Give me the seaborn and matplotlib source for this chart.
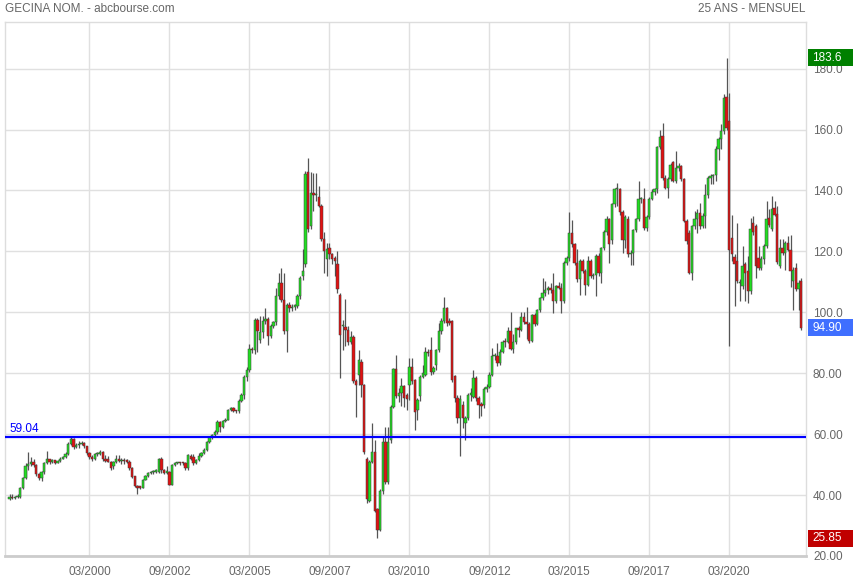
import numpy as np
import pandas as pd
import matplotlib
matplotlib.use("Agg")
import matplotlib.pyplot as plt
import matplotlib.transforms as mtransforms
from matplotlib.patches import Rectangle
import seaborn as sns

# monthly candles, first one = 09/1997
first_month = "1997-09"

opens = [
    38.6, 39.4, 39.0, 39.3, 39.4, 42.2, 45.6, 49.4, 50.2, 50.8, 49.8, 46.9, 45.5, 47.5, 50.5,
    51.7, 50.8, 51.4, 50.6, 51.2, 52.0, 52.5, 53.5, 56.9, 58.5, 55.8, 56.5, 56.7, 57.1, 56.0,
    53.8, 52.6, 51.8, 53.4, 53.6, 54.2, 52.0, 51.7, 51.0, 49.4, 51.0, 51.8, 51.2, 51.3, 51.1,
    51.0, 48.8, 46.1, 42.9, 42.9, 42.4, 45.1, 46.3, 47.2, 47.5, 47.7, 47.7, 52.0, 48.3, 47.4,
    47.7, 43.4, 49.9, 50.4, 50.6, 50.6, 50.6, 48.8, 52.8, 52.6, 50.4, 51.5, 52.8, 53.7, 54.7,
    57.4, 59.0, 59.6, 60.8, 64.1, 62.2, 64.4, 64.8, 67.9, 68.5, 67.7, 67.5, 71.0, 72.9, 78.9,
    81.1, 87.9, 87.5, 97.6, 91.0, 93.4, 97.0, 97.9, 92.1, 95.4, 96.7, 105.3, 109.7, 104.2, 93.7,
    102.5, 101.5, 101.9, 102.0, 105.3, 111.9, 115.7, 146.2, 128.4, 139.3, 138.5, 137.7, 135.0, 124.2, 117.6,
    121.2, 119.0, 117.9, 116.0, 105.8, 95.4, 95.2, 94.3, 90.4, 91.9, 77.3, 79.5, 83.8, 76.2, 52.0,
    38.2, 50.9, 54.2, 35.5, 28.6, 41.5, 57.5, 44.3, 58.0, 69.0, 81.3, 72.5, 73.4, 75.8, 72.9,
    76.2, 82.2, 77.8, 68.0, 72.6, 78.9, 79.5, 87.1, 87.6, 80.5, 82.7, 87.6, 93.7, 97.3, 101.3,
    97.3, 97.0, 79.1, 71.8, 65.2, 69.6, 63.6, 65.2, 72.9, 72.3, 78.4, 71.8, 69.9, 69.6, 74.8,
    75.6, 79.5, 85.5, 85.8, 83.3, 87.1, 90.4, 90.2, 93.9, 88.0, 90.2, 94.7, 94.2, 98.6, 96.9,
    96.1, 90.6, 99.1, 96.3, 100.8, 104.7, 106.3, 107.4, 108.0, 107.2, 103.6, 108.5, 108.0, 103.8, 116.3,
    117.7, 126.1, 122.4, 116.3, 110.8, 116.9, 113.6, 109.1, 116.9, 111.9, 112.4, 118.6, 113.0, 121.1, 126.3,
    130.7, 123.8, 135.4, 140.4, 140.6, 132.9, 123.6, 130.5, 119.2, 119.6, 127.1, 130.7, 137.1, 137.3, 127.7,
    131.3, 137.3, 139.5, 140.4, 154.2, 157.8, 144.2, 140.9, 143.7, 149.2, 143.1, 147.5, 148.0, 143.7, 129.9,
    126.0, 112.8, 128.2, 130.5, 132.7, 128.3, 131.6, 138.5, 144.2, 144.7, 145.0, 153.7, 156.8, 159.5, 170.8,
    162.8, 124.4, 118.2, 116.8, 109.6, 108.5, 115.7, 113.5, 106.9, 129.4, 128.3, 117.9, 114.6, 117.5,
    121.7, 131.0, 127.2, 134.3, 132.4, 115.1, 121.2, 119.5, 122.8, 120.6, 110.2, 114.6, 107.5, 110.4,
]
highs = [
    40.5, 40.5, 39.8, 40.2, 42.5, 46.0, 50.5, 54.2, 52.5, 51.8, 50.3, 47.2, 48.0, 51.0, 54.4,
    52.0, 51.9, 51.6, 51.6, 52.4, 52.9, 54.0, 57.3, 59.2, 58.7, 57.0, 57.6, 57.7, 57.3, 56.2,
    54.0, 53.3, 53.8, 54.0, 54.8, 54.6, 53.1, 52.8, 51.3, 51.3, 53.1, 53.1, 52.3, 52.2, 51.8,
    51.6, 49.2, 46.4, 43.3, 43.1, 45.4, 46.6, 47.7, 47.9, 48.3, 48.5, 52.3, 52.4, 48.5, 49.4,
    48.0, 50.1, 50.9, 51.0, 51.0, 50.9, 50.9, 53.5, 53.5, 53.5, 51.9, 53.7, 54.0, 55.3, 57.6,
    59.4, 60.0, 61.5, 64.5, 64.3, 64.8, 65.3, 68.2, 69.0, 68.8, 68.0, 71.4, 73.4, 79.4, 82.0,
    89.5, 88.6, 98.2, 98.0, 98.9, 98.8, 101.4, 98.3, 96.1, 97.2, 108.0, 112.8, 114.4, 112.8, 103.0,
    103.3, 102.8, 102.6, 106.0, 112.0, 120.7, 146.5, 150.5, 145.9, 145.6, 145.6, 141.5, 135.5, 126.2, 122.9,
    122.9, 119.5, 118.5, 120.0, 106.5, 97.6, 104.4, 95.4, 94.0, 92.5, 78.0, 87.7, 84.8, 76.5, 52.5,
    51.5, 63.5, 58.0, 35.8, 42.0, 59.1, 62.4, 62.4, 69.6, 81.8, 86.0, 75.0, 78.4, 76.0, 73.5,
    84.9, 84.9, 78.0, 72.0, 79.5, 82.7, 88.7, 88.0, 92.0, 82.5, 88.0, 96.4, 98.0, 105.1, 101.8,
    98.2, 97.5, 79.5, 73.0, 73.0, 71.0, 66.0, 73.5, 75.0, 81.1, 79.0, 72.5, 70.5, 75.5, 76.5,
    80.5, 88.2, 86.5, 89.8, 88.0, 91.0, 91.5, 95.2, 100.2, 92.8, 95.0, 95.5, 100.2, 100.2, 101.9,
    96.8, 99.6, 99.8, 101.2, 105.0, 111.3, 110.2, 108.6, 109.5, 113.0, 109.0, 110.0, 109.5, 116.8, 118.5,
    133.0, 130.2, 122.8, 120.8, 117.5, 117.5, 114.2, 118.6, 117.5, 113.0, 119.0, 119.5, 121.5, 127.1, 131.5,
    131.0, 136.0, 140.9, 142.6, 140.9, 133.5, 132.0, 131.5, 120.5, 127.5, 131.0, 143.1, 138.0, 140.9, 132.0,
    137.8, 140.5, 140.9, 154.5, 159.7, 162.2, 145.0, 144.5, 149.0, 149.7, 153.1, 149.0, 148.5, 144.0, 130.5,
    127.0, 128.5, 133.2, 134.0, 135.9, 132.5, 142.0, 144.7, 145.3, 145.3, 154.6, 157.5, 161.7, 171.5, 183.6,
    171.9, 132.1, 119.0, 129.4, 111.0, 121.7, 116.5, 118.4, 131.0, 131.6, 129.0, 121.7, 118.5, 122.5,
    136.5, 133.8, 138.1, 136.5, 134.8, 123.9, 123.9, 123.5, 125.0, 125.5, 115.0, 116.2, 110.5, 111.3,
]
lows = [
    38.3, 38.6, 38.7, 38.9, 39.0, 42.0, 45.3, 48.2, 49.5, 49.2, 46.2, 44.9, 44.7, 47.0, 50.2,
    50.3, 50.5, 50.2, 50.4, 50.8, 51.8, 52.2, 53.2, 56.5, 55.0, 55.3, 55.6, 56.3, 55.5, 53.3,
    52.0, 51.1, 51.5, 52.8, 53.2, 51.3, 50.9, 50.7, 48.3, 48.6, 50.6, 50.8, 50.2, 50.3, 50.5,
    48.3, 45.5, 42.5, 40.5, 41.9, 42.2, 44.8, 45.9, 46.8, 47.0, 47.4, 47.2, 47.1, 46.9, 46.9,
    43.2, 43.2, 49.6, 50.1, 50.0, 50.0, 48.3, 48.3, 51.4, 50.0, 50.1, 51.3, 52.5, 53.4, 54.5,
    57.2, 58.3, 59.0, 60.2, 60.8, 62.0, 64.0, 64.6, 67.5, 67.2, 66.8, 67.0, 70.5, 71.5, 77.6,
    80.5, 86.8, 86.2, 87.0, 90.0, 91.5, 96.2, 89.4, 91.6, 94.8, 95.8, 104.5, 103.5, 92.9, 87.0,
    100.2, 100.5, 100.8, 101.5, 104.5, 110.5, 115.0, 126.5, 127.5, 133.3, 136.5, 134.5, 123.5, 113.0, 111.9,
    117.4, 116.0, 112.0, 106.5, 78.4, 87.7, 88.8, 89.3, 89.5, 76.7, 65.7, 76.0, 72.3, 53.5, 37.5,
    37.8, 50.5, 34.5, 25.85, 28.3, 40.5, 43.5, 43.8, 57.0, 68.5, 72.0, 70.5, 69.1, 69.0, 68.0,
    71.2, 76.5, 61.4, 64.7, 71.0, 78.5, 79.0, 85.5, 79.5, 79.8, 81.0, 87.0, 93.0, 96.5, 95.5,
    95.8, 77.0, 70.5, 63.6, 52.7, 62.0, 58.1, 64.5, 71.0, 72.0, 71.0, 65.2, 66.0, 68.5, 74.0,
    75.0, 79.0, 84.5, 82.5, 82.8, 86.5, 88.5, 89.8, 87.5, 86.8, 89.5, 91.9, 93.8, 96.0, 91.3,
    90.0, 90.2, 95.5, 95.8, 100.2, 104.0, 105.5, 106.0, 106.5, 99.7, 103.0, 107.5, 99.7, 103.0, 115.5,
    117.0, 121.5, 115.5, 110.0, 105.8, 113.0, 105.8, 108.5, 111.3, 111.0, 105.2, 112.0, 109.5, 120.5, 125.5,
    116.1, 122.5, 134.5, 134.9, 132.0, 119.4, 121.1, 118.3, 115.6, 115.6, 126.5, 130.0, 136.0, 127.0, 126.6,
    130.5, 137.0, 138.5, 139.3, 153.5, 143.5, 140.5, 137.6, 143.0, 142.8, 142.5, 146.5, 143.0, 129.5, 122.5,
    112.5, 110.6, 127.5, 126.0, 127.2, 127.7, 127.7, 137.5, 142.0, 142.0, 143.0, 150.0, 153.5, 158.5, 159.8,
    88.8, 117.0, 102.0, 109.5, 103.6, 107.5, 103.6, 103.1, 106.0, 125.5, 111.3, 114.0, 114.0, 116.0,
    121.0, 128.0, 126.8, 131.5, 116.0, 114.5, 118.8, 114.0, 120.0, 108.3, 100.9, 107.0, 100.9, 94.3,
]
closes = [
    39.4, 39.0, 39.3, 39.5, 42.2, 45.6, 49.4, 50.2, 50.8, 49.8, 46.9, 45.5, 47.5, 50.5, 51.7,
    50.8, 51.4, 50.6, 51.2, 52.0, 52.5, 53.5, 56.9, 58.5, 55.8, 56.5, 56.7, 57.1, 56.0, 53.8,
    52.6, 51.8, 53.4, 53.6, 54.2, 51.7, 51.3, 51.0, 48.8, 51.0, 52.0, 51.2, 51.3, 51.1, 51.0,
    48.8, 45.9, 42.9, 42.4, 42.4, 45.1, 46.1, 47.2, 47.5, 47.7, 48.1, 52.0, 48.3, 47.4, 47.8,
    43.4, 49.9, 50.4, 50.6, 50.5, 50.4, 48.8, 53.1, 51.7, 50.4, 51.5, 52.8, 53.7, 54.7, 57.4,
    59.0, 59.6, 60.8, 64.1, 62.2, 64.4, 64.8, 67.9, 68.5, 67.7, 67.5, 71.0, 72.9, 78.9, 81.1,
    87.9, 87.5, 97.6, 93.7, 93.4, 97.0, 97.9, 92.1, 95.4, 96.7, 105.3, 109.7, 104.2, 93.7, 102.5,
    101.5, 101.9, 102.0, 105.3, 111.3, 113.5, 145.4, 127.3, 139.3, 138.5, 139.0, 135.0, 124.2, 120.1, 120.7,
    119.0, 117.6, 117.0, 107.5, 92.6, 95.9, 94.3, 90.4, 91.9, 77.3, 76.2, 84.4, 76.2, 54.2, 38.8,
    50.9, 54.2, 34.9, 28.6, 41.5, 57.5, 44.3, 57.5, 69.0, 81.3, 72.5, 73.6, 75.8, 71.8, 71.6,
    82.0, 77.3, 67.4, 71.3, 78.9, 80.0, 87.1, 86.5, 80.5, 81.6, 87.6, 93.7, 97.3, 101.3, 96.4,
    96.6, 77.8, 71.8, 65.2, 71.5, 65.2, 65.2, 72.9, 73.5, 78.4, 71.8, 69.6, 69.3, 74.8, 75.6,
    79.5, 85.5, 85.8, 83.3, 87.1, 90.4, 90.2, 93.9, 88.0, 90.2, 94.7, 94.2, 98.6, 96.9, 96.1,
    90.6, 99.1, 96.3, 100.8, 104.7, 106.3, 107.4, 108.0, 107.2, 103.6, 108.5, 108.0, 103.8, 116.3, 117.7,
    126.1, 122.4, 116.3, 110.8, 116.9, 113.6, 109.1, 116.9, 111.9, 112.4, 118.6, 113.0, 121.1, 126.3, 130.7,
    122.5, 135.4, 140.4, 140.6, 132.9, 123.6, 131.3, 119.2, 119.6, 127.1, 130.7, 137.1, 137.3, 127.7, 131.3,
    137.3, 139.5, 140.4, 154.2, 157.5, 144.2, 140.9, 143.7, 148.3, 143.1, 147.5, 148.0, 143.7, 129.9, 123.3,
    112.8, 128.2, 130.5, 132.7, 128.3, 131.6, 138.5, 144.2, 144.7, 145.0, 153.7, 156.8, 159.5, 170.5, 160.6,
    120.6, 119.3, 115.7, 110.2, 110.0, 115.1, 112.9, 106.9, 127.4, 126.3, 115.1, 114.6, 117.5, 121.7,
    130.5, 128.8, 133.8, 132.1, 116.4, 121.2, 119.5, 122.8, 120.6, 113.5, 114.0, 107.5, 109.6, 94.9,
]

tick_labels = ["03/2000", "09/2002", "03/2005", "09/2007", "03/2010",
               "09/2012", "03/2015", "09/2017", "03/2020"]
y_ticks = [20, 40, 60, 80, 100, 120, 140, 160, 180]
y_tick_labels = ["20.00", "40.00", "60.00", "80.00", "100.0", "120.0", "140.0", "160.0", "180.0"]

ref_level = 59.04
high_val = 183.6
low_val = 25.85
last_val = 94.90

df = pd.DataFrame({"open": opens, "high": highs, "low": lows, "close": closes})
df["x"] = np.arange(len(df))
df["month"] = pd.period_range(first_month, periods=len(df), freq="M").strftime("%m/%Y")
df["up"] = df["close"] >= df["open"]
df["body_low"] = df[["open", "close"]].min(axis=1)
df["body_h"] = (df["close"] - df["open"]).abs().clip(lower=0.4)

sns.set_theme(style="white")
plt.rcParams["font.family"] = ["Liberation Sans", "DejaVu Sans"]

fig = plt.figure(figsize=(8.55, 5.8), dpi=100)
ax = fig.add_axes([5 / 855, 1 - 556 / 580, 801 / 855, 534 / 580])

# wicks then bodies
ax.vlines(df["x"], df["low"], df["high"], color="#555555", lw=0.9, zorder=2)
for up, face in [(True, "#22dd22"), (False, "#e01212")]:
    d = df[df["up"] == up]
    ax.bar(d["x"], d["body_h"], bottom=d["body_low"], width=0.88,
           color=face, edgecolor="#3c3c3c", linewidth=0.35, zorder=3)

ax.axhline(ref_level, color="#0000ff", lw=1.6, zorder=4)
blend = mtransforms.blended_transform_factory(ax.transAxes, ax.transData)
ax.text(0.005, ref_level + 0.8, f"{ref_level:.2f}", transform=blend, color="#0000ff",
        fontsize=8.5, ha="left", va="bottom")

# axes, grid
tick_pos = [int(df.index[df["month"] == lab][0]) for lab in tick_labels]
ax.set_xticks(tick_pos, tick_labels)
ax.set_xlim(-1.7, 298.8)
ax.set_ylim(20, 195.3)
ax.yaxis.tick_right()
ax.set_yticks(y_ticks, y_tick_labels)
ax.grid(True, color="#e0e0e0", lw=1)
ax.set_axisbelow(True)
ax.tick_params(axis="both", length=0, labelsize=8.5, labelcolor="#666666")
ax.tick_params(axis="x", pad=7)
ax.tick_params(axis="y", pad=5)
for s in ["top", "left", "right"]:
    ax.spines[s].set_color("#dddddd")
    ax.spines[s].set_linewidth(1)
ax.spines["bottom"].set_color("#cccccc")
ax.spines["bottom"].set_linewidth(2)

# value tags on the right
for val, txt, face in [(high_val, f"{high_val:.1f}", "#008000"),
                       (last_val, f"{last_val:.2f}", "#3f6fff"),
                       (low_val, f"{low_val:.2f}", "#c00000")]:
    ax.add_patch(Rectangle((1.0025, val - 2.8), 0.056, 5.6, transform=blend,
                           facecolor=face, edgecolor="none", clip_on=False, zorder=10))
    ax.text(1.008, val, txt, transform=blend, color="white", fontsize=8.5,
            ha="left", va="center", zorder=11, clip_on=False)

fig.text(5 / 855, 1 - 9 / 580, "GECINA NOM. - abcbourse.com", ha="left", va="center",
         fontsize=8.5, color="#666666")
fig.text(805 / 855, 1 - 9 / 580, "25 ANS - MENSUEL", ha="right", va="center",
         fontsize=8.5, color="#666666")

fig.savefig("out.png", dpi=100)
